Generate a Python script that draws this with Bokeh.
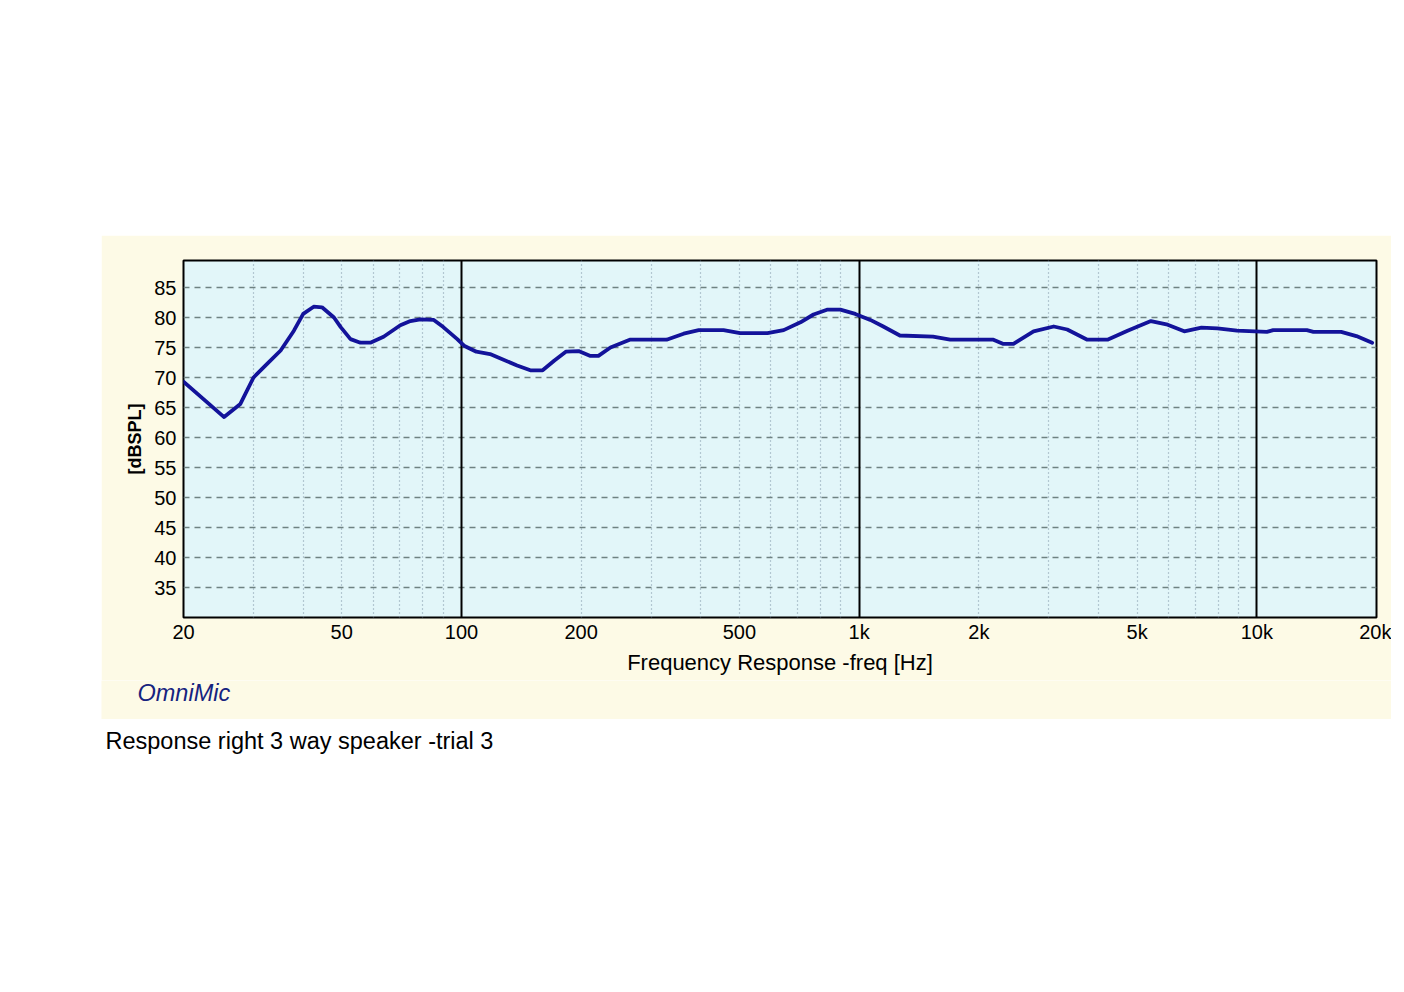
from bokeh.plotting import figure
from bokeh.models import (FixedTicker, Grid, Label, Range1d, Spacer, ColumnDataSource)
from bokeh.layouts import column, row
from bokeh.embed import file_html
from bokeh.resources import INLINE

# ---- data ----
freq_hz = [20, 25.3, 27.8, 30, 32.5, 35.1, 37.9, 40, 42.5, 44.6, 47.8, 49.7, 52.6,
           55.7, 59, 63.7, 70.2, 74.4, 78.8, 85.2, 90, 97.6, 101.5, 109, 118, 125,
           138, 149, 160, 171, 183, 197, 211, 221, 237, 265, 298, 328, 362, 395,
           456, 502, 588, 646, 712, 768, 830, 897, 978, 1067, 1150, 1266, 1534,
           1694, 2176, 2306, 2444, 2746, 3086, 3336, 3748, 4212, 4732, 5418, 5968,
           6570, 7260, 7960, 8920, 10600, 11000, 13360, 13880, 16300, 17800, 19500]
spl_db = [69.3, 63.4, 65.6, 70.0, 72.3, 74.5, 77.8, 80.6, 81.8, 81.7, 80.0, 78.4, 76.4,
          75.8, 75.8, 76.8, 78.7, 79.4, 79.7, 79.6, 78.4, 76.4, 75.3, 74.3, 73.9, 73.2,
          72.0, 71.2, 71.2, 72.8, 74.3, 74.4, 73.6, 73.6, 75.0, 76.3, 76.3, 76.3, 77.3, 77.9,
          77.9, 77.4, 77.4, 77.9, 79.2, 80.5, 81.3, 81.3, 80.6, 79.6, 78.5, 77.0, 76.8,
          76.3, 76.3, 75.6, 75.6, 77.7, 78.5, 78.0, 76.3, 76.3, 77.8, 79.4, 78.8,
          77.7, 78.3, 78.2, 77.8, 77.6, 77.9, 77.9, 77.6, 77.6, 76.9, 75.8]

x_ticks = [20, 50, 100, 200, 500, 1000, 2000, 5000, 10000, 20000]
x_tick_labels = ["20", "50", "100", "200", "500", "1k", "2k", "5k", "10k", "20k"]
x_minor_grid = [30, 40, 50, 60, 70, 80, 90,
                200, 300, 400, 500, 600, 700, 800, 900,
                2000, 3000, 4000, 5000, 6000, 7000, 8000, 9000]
x_decades = [100, 1000, 10000]
y_ticks = [35, 40, 45, 50, 55, 60, 65, 70, 75, 80, 85]

x_title = "Frequency Response -freq [Hz]"
y_title = "[dBSPL]"
brand = "OmniMic"
caption = "Response right 3 way speaker -trial 3"

FONT = "Liberation Sans"
CREAM = "#fdfae6"
CYAN = "#e2f6f9"

p = figure(width=1290, height=445, x_axis_type="log",
           x_range=Range1d(20, 20000), y_range=Range1d(30, 89.5),
           output_backend="svg", toolbar_location=None,
           min_border_left=82, min_border_right=15, min_border_top=25, min_border_bottom=63)
p.border_fill_color = CREAM
p.background_fill_color = CYAN
p.outline_line_color = "black"
p.outline_line_width = 2

# axes
p.xaxis.ticker = FixedTicker(ticks=x_ticks, minor_ticks=[])
p.xaxis.major_label_overrides = {t: l for t, l in zip(x_ticks, x_tick_labels)}
p.yaxis.ticker = FixedTicker(ticks=y_ticks, minor_ticks=[])
for ax in (p.xaxis, p.yaxis):
    ax.axis_line_color = None
    ax.major_tick_line_color = None
    ax.minor_tick_line_color = None
    ax.major_tick_out = 0
    ax.major_tick_in = 0
    ax.major_label_text_font = FONT
    ax.major_label_text_font_size = "20px"
    ax.major_label_text_color = "black"
    ax.axis_label_text_font = FONT
    ax.axis_label_text_font_style = "normal"
    ax.axis_label_text_color = "black"
p.xaxis.major_label_standoff = 3
p.yaxis.major_label_standoff = 7
p.xaxis.axis_label = x_title
p.xaxis.axis_label_text_font_size = "22px"
p.xaxis.axis_label_standoff = 4
p.yaxis.axis_label = y_title
p.yaxis.axis_label_text_font_size = "18px"
p.yaxis.axis_label_text_font_style = "bold"
p.yaxis.axis_label_standoff = 6

# grids
p.ygrid.ticker = FixedTicker(ticks=y_ticks, minor_ticks=[])
p.ygrid.grid_line_color = "#6f8282"
p.ygrid.grid_line_dash = "6 5"
p.ygrid.grid_line_width = 1.3
p.xgrid.ticker = FixedTicker(ticks=x_minor_grid, minor_ticks=[])
p.xgrid.grid_line_color = "#8298aa"
p.xgrid.grid_line_dash = "1 3"
p.xgrid.grid_line_width = 1.2
dec = Grid(dimension=0, ticker=FixedTicker(ticks=x_decades, minor_ticks=[]),
           grid_line_color="black", grid_line_width=2)
p.add_layout(dec, "center")

src = ColumnDataSource(data=dict(f=freq_hz, db=spl_db))
p.line("f", "db", source=src, line_color="#13139a", line_width=3.8,
       line_join="round", line_cap="round")

# cream strip at the bottom of the panel carrying the brand name
brand_fig = figure(width=1290, height=39, output_backend="svg", toolbar_location=None,
                   x_range=Range1d(0, 1), y_range=Range1d(0, 1),
                   x_axis_location=None, y_axis_location=None, min_border=0)
brand_fig.border_fill_color = CREAM
brand_fig.background_fill_color = CREAM
brand_fig.outline_line_color = None
brand_fig.grid.visible = False
brand_fig.add_layout(Label(x=36, y=27, x_units="screen", y_units="screen",
                           text=brand, text_font=FONT, text_font_style="italic",
                           text_font_size="23.5px", text_color="#16237f",
                           text_baseline="middle", text_align="left"))

cap = figure(width=700, height=60, output_backend="svg", toolbar_location=None,
             x_range=Range1d(0, 1), y_range=Range1d(0, 1),
             x_axis_location=None, y_axis_location=None,
             min_border=0)
cap.border_fill_color = "white"
cap.background_fill_color = "white"
cap.outline_line_color = None
cap.grid.visible = False
cap.add_layout(Label(x=4, y=60 - 21, x_units="screen", y_units="screen",
                     text=caption, text_font=FONT, text_font_size="23.5px",
                     text_color="black", text_baseline="middle", text_align="left"))

layout = column(Spacer(height=235),
                row(Spacer(width=101), p),
                row(Spacer(width=101), brand_fig),
                row(Spacer(width=101), cap))

open("out.html", "w").write(file_html(layout, INLINE))
